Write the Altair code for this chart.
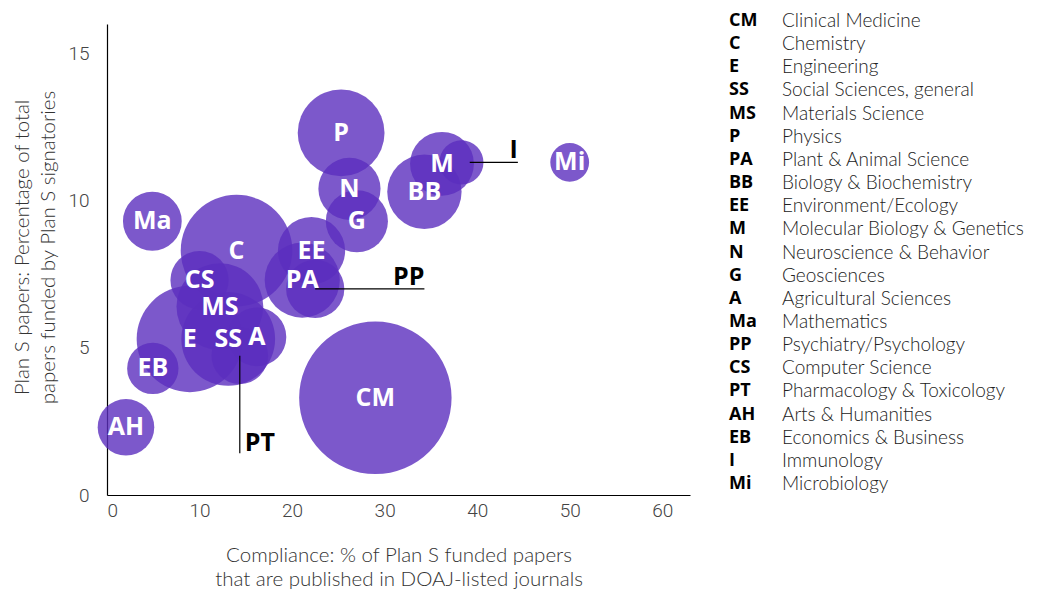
import altair as alt
import pandas as pd

# ---- data -------------------------------------------------------------
codes = ["CM", "C", "E", "SS", "MS", "P", "PA", "BB", "EE", "M", "N", "G",
         "A", "Ma", "PP", "CS", "PT", "AH", "EB", "I", "Mi"]
names = ["Clinical Medicine", "Chemistry", "Engineering", "Social Sciences, general",
         "Materials Science", "Physics", "Plant & Animal Science",
         "Biology & Biochemistry", "Environment/Ecology",
         "Molecular Biology & Genetics", "Neuroscience & Behavior", "Geosciences",
         "Agricultural Sciences", "Mathematics", "Psychiatry/Psychology",
         "Computer Science", "Pharmacology & Toxicology", "Arts & Humanities",
         "Economics & Business", "Immunology", "Microbiology"]
# Compliance: % of Plan S funded papers in DOAJ-listed journals
compliance = [29.0, 14.0, 8.95, 13.1, 12.2, 25.3, 21.1, 34.3, 22.1, 36.2, 26.2, 27.0,
              16.2, 4.9, 22.5, 10.0, 14.35, 2.05, 4.95, 38.3, 50.0]
# Plan S papers: % of total papers funded by Plan S signatories
share = [3.3, 8.3, 5.3, 5.3, 6.4, 12.3, 7.3, 10.3, 8.3, 11.25, 10.4, 9.3,
         5.37, 9.3, 7.0, 7.3, 4.73, 2.3, 4.3, 11.3, 11.3]
# relative paper volume (bubble area)
papers = [74, 39.7, 36, 28, 24, 24, 18, 17.6, 14.4, 13, 12.3, 12.3,
          11, 11, 10.8, 10.8, 10.2, 10.2, 8.4, 6.2, 4.8]
# labels drawn inside the bubbles (annotated ones are labelled outside)
inside = [c if c not in ("PP", "PT", "I") else "" for c in codes]

# outside annotations with leader lines
anno_label = ["PP", "PT", "I"]
anno_x1 = [22.5, 14.35, 39.2]
anno_y1 = [7.0, 4.73, 11.3]
anno_x2 = [34.3, 14.35, 44.4]
anno_y2 = [7.0, 1.42, 11.3]
anno_tx = [34.3, 14.35, 44.4]
anno_ty = [7.0, 1.42, 11.3]
anno_align = ["right", "left", "right"]

rows = list(range(len(codes)))

bubbles = pd.DataFrame({"code": codes, "name": names, "x": compliance,
                        "y": share, "papers": papers, "inside": inside})
anno = pd.DataFrame({"label": anno_label, "x1": anno_x1, "y1": anno_y1,
                     "x2": anno_x2, "y2": anno_y2, "tx": anno_tx, "ty": anno_ty,
                     "align": anno_align})
legend = pd.DataFrame({"code": codes, "name": names, "row": rows})

# ---- styling ----------------------------------------------------------
TICK_FONT = "Roboto"
TEXT_FONT = "Lato"
LABEL_FONT = "Open Sans"
PURPLE = "#5B2EBE"

xs = alt.Scale(domain=[0, 63], nice=False, zero=True)
ys = alt.Scale(domain=[0, 16], nice=False, zero=True)
ss = alt.Scale(domain=[0, 74], range=[0, 23235], zero=True)

x_axis = alt.Axis(values=[0, 10, 20, 30, 40, 50, 60], grid=False, ticks=False,
                  domainColor="#000", domainWidth=1.2, labelFont=TICK_FONT,
                  labelFontSize=19, labelFontWeight=300, labelColor="#444",
                  labelPadding=6,
                  title=["Compliance: % of Plan S funded papers",
                         "that are published in DOAJ-listed journals"],
                  titleFont=TEXT_FONT, titleFontSize=20.5, titleFontWeight=300,
                  titleColor="#333", titlePadding=25, titleLineHeight=24)
y_axis = alt.Axis(values=[0, 5, 10, 15], grid=False, ticks=False,
                  domainColor="#000", domainWidth=1.2, labelFont=TICK_FONT,
                  labelFontSize=19, labelFontWeight=300, labelColor="#444",
                  labelPadding=18,
                  title=["Plan S papers: Percentage of  total",
                         "papers funded by Plan S signatories"],
                  titleFont=TEXT_FONT, titleFontSize=20.5, titleFontWeight=300,
                  titleColor="#333", titlePadding=9, titleLineHeight=26,
                  titleY=223)

base = alt.Chart(bubbles)

circles = base.mark_circle(color=PURPLE, opacity=0.8).encode(
    x=alt.X("x:Q", scale=xs, axis=x_axis),
    y=alt.Y("y:Q", scale=ys, axis=y_axis),
    size=alt.Size("papers:Q", scale=ss, legend=None),
    order=alt.Order("papers:Q", sort="descending"),
)

bubble_text = base.mark_text(color="white", font=LABEL_FONT, fontWeight="bold",
                             fontSize=25, baseline="middle", align="center").encode(
    x=alt.X("x:Q", scale=xs, axis=x_axis),
    y=alt.Y("y:Q", scale=ys, axis=None),
    text="inside:N",
)

anno_base = alt.Chart(anno)
anno_lines = anno_base.mark_rule(color="#000", strokeWidth=1.2).encode(
    x=alt.X("x1:Q", scale=xs, axis=x_axis),
    y=alt.Y("y1:Q", scale=ys, axis=None),
    x2="x2:Q",
    y2="y2:Q",
)
anno_text_r = anno_base.transform_filter("datum.align == 'right'").mark_text(
    color="#000", font=LABEL_FONT, fontWeight="bold", fontSize=25,
    align="right", baseline="bottom", dy=1).encode(
    x=alt.X("tx:Q", scale=xs, axis=x_axis),
    y=alt.Y("ty:Q", scale=ys, axis=None),
    text="label:N",
)
anno_text_l = anno_base.transform_filter("datum.align == 'left'").mark_text(
    color="#000", font=LABEL_FONT, fontWeight="bold", fontSize=25,
    align="left", baseline="bottom", dx=5, dy=3).encode(
    x=alt.X("tx:Q", scale=xs, axis=x_axis),
    y=alt.Y("ty:Q", scale=ys, axis=None),
    text="label:N",
)

rs = alt.Scale(domain=[0, 20], range=[-3, 460], zero=False, nice=False)
leg_base = alt.Chart(legend)
leg_codes = leg_base.mark_text(font=LABEL_FONT, fontWeight="bold", fontSize=18,
                               color="#000", align="left", baseline="middle").encode(
    x=alt.value(622),
    y=alt.Y("row:Q", scale=rs, axis=None),
    text="code:N",
)
leg_names = leg_base.mark_text(font=TEXT_FONT, fontWeight=300, fontSize=19,
                               color="#222", align="left", baseline="middle").encode(
    x=alt.value(675),
    y=alt.Y("row:Q", scale=rs, axis=None),
    text="name:N",
)

chart = alt.layer(
    circles, bubble_text, anno_lines, anno_text_r, anno_text_l, leg_codes, leg_names
).resolve_scale(y="independent").properties(
    width=583, height=471,
    autosize=alt.AutoSizeParams(type="none"),
    padding={"left": 99, "top": 16, "right": 350, "bottom": 95},
).configure_view(stroke=None)

chart.save("out.html", embed_options={"renderer": "svg", "actions": False})
